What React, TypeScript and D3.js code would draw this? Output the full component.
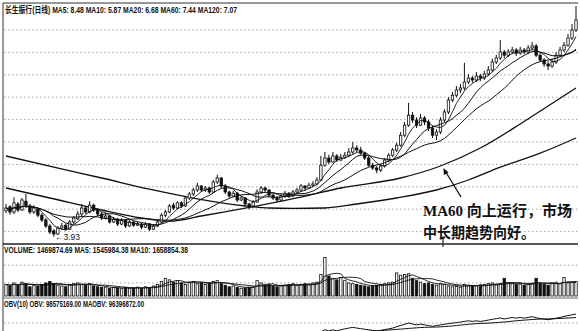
import React from "react";
import * as d3 from "d3";

const W = 580;
const H = 331;

// [open, high, low, close]
const ohlc: [number, number, number, number][] = [
  [4.58, 4.75, 4.52, 4.65], [4.68, 4.72, 4.48, 4.55], [4.55, 4.92, 4.5, 4.78], [4.75, 4.8, 4.55, 4.6],
  [4.6, 4.9, 4.58, 4.85], [4.82, 5.0, 4.65, 4.72], [4.7, 4.75, 4.5, 4.55], [4.55, 4.72, 4.5, 4.65],
  [4.62, 4.66, 4.42, 4.47], [4.47, 4.52, 4.3, 4.35], [4.35, 4.4, 4.15, 4.2], [4.2, 4.25, 4.0, 4.05],
  [4.08, 4.12, 3.93, 4.0], [4.0, 4.2, 3.98, 4.15], [4.15, 4.28, 4.1, 4.2], [4.22, 4.26, 4.08, 4.12],
  [4.12, 4.35, 4.1, 4.3], [4.3, 4.45, 4.25, 4.4], [4.38, 4.58, 4.35, 4.5], [4.5, 4.75, 4.45, 4.65],
  [4.65, 4.7, 4.5, 4.55], [4.55, 4.82, 4.52, 4.72], [4.72, 4.76, 4.55, 4.6], [4.6, 4.65, 4.45, 4.5],
  [4.5, 4.55, 4.35, 4.4], [4.4, 4.52, 4.36, 4.45], [4.45, 4.48, 4.26, 4.3], [4.3, 4.42, 4.28, 4.37],
  [4.37, 4.4, 4.2, 4.25], [4.25, 4.4, 4.22, 4.35], [4.35, 4.38, 4.15, 4.2], [4.2, 4.35, 4.18, 4.3],
  [4.3, 4.32, 4.18, 4.22], [4.22, 4.3, 4.2, 4.25], [4.25, 4.28, 4.12, 4.17], [4.17, 4.3, 4.15, 4.25],
  [4.25, 4.27, 4.08, 4.12], [4.12, 4.25, 4.1, 4.2], [4.2, 4.35, 4.18, 4.3], [4.3, 4.52, 4.28, 4.47],
  [4.47, 4.6, 4.42, 4.55], [4.55, 4.75, 4.52, 4.7], [4.72, 4.78, 4.6, 4.65], [4.65, 4.82, 4.62, 4.78],
  [4.78, 4.82, 4.65, 4.7], [4.7, 4.95, 4.68, 4.9], [4.9, 5.05, 4.85, 5.0], [5.0, 5.15, 4.95, 5.1],
  [5.1, 5.28, 5.05, 5.2], [5.2, 5.22, 5.05, 5.1], [5.1, 5.2, 5.05, 5.15], [5.15, 5.18, 5.0, 5.05],
  [5.05, 5.35, 5.02, 5.3], [5.3, 5.48, 5.25, 5.4], [5.4, 5.42, 5.15, 5.2], [5.2, 5.25, 5.0, 5.05],
  [5.05, 5.08, 4.9, 4.95], [4.95, 5.08, 4.92, 5.02], [5.02, 5.05, 4.8, 4.85], [4.85, 4.95, 4.82, 4.9],
  [4.9, 4.92, 4.7, 4.75], [4.75, 4.78, 4.62, 4.7], [4.7, 4.85, 4.66, 4.8], [4.8, 5.12, 4.78, 5.05],
  [5.05, 5.2, 5.0, 5.15], [5.15, 5.18, 5.05, 5.1], [5.1, 5.12, 4.92, 4.97], [4.97, 5.02, 4.85, 4.9],
  [4.9, 4.95, 4.8, 4.85], [4.85, 5.0, 4.82, 4.95], [4.95, 5.08, 4.9, 5.02], [5.02, 5.05, 4.9, 4.95],
  [4.95, 5.1, 4.92, 5.05], [5.05, 5.15, 5.0, 5.1], [5.1, 5.25, 5.05, 5.2], [5.2, 5.22, 5.08, 5.15],
  [5.15, 5.28, 5.12, 5.22], [5.22, 5.32, 5.18, 5.25], [5.25, 5.42, 5.22, 5.35], [5.35, 5.95, 5.32, 5.72],
  [5.72, 6.05, 5.68, 5.9], [5.9, 5.98, 5.75, 5.8], [5.8, 6.05, 5.78, 5.95], [5.95, 6.0, 5.8, 5.85],
  [5.85, 6.0, 5.82, 5.92], [5.92, 6.05, 5.88, 5.97], [5.97, 6.15, 5.92, 6.05], [6.05, 6.3, 6.0, 6.15],
  [6.15, 6.22, 6.05, 6.1], [6.1, 6.18, 5.98, 6.02], [6.02, 6.05, 5.85, 5.9], [5.9, 5.95, 5.68, 5.72],
  [5.72, 5.78, 5.6, 5.65], [5.65, 5.7, 5.52, 5.6], [5.6, 5.75, 5.55, 5.7], [5.7, 5.9, 5.66, 5.85],
  [5.85, 6.02, 5.8, 5.97], [5.97, 6.15, 5.92, 6.1], [6.1, 6.28, 6.05, 6.22], [6.22, 6.55, 6.18, 6.47],
  [6.47, 6.8, 6.42, 6.72], [6.72, 7.28, 6.68, 6.97], [6.97, 7.05, 6.78, 6.85], [6.85, 6.92, 6.65, 6.72],
  [6.72, 7.0, 6.7, 6.9], [6.9, 6.95, 6.72, 6.8], [6.8, 6.85, 6.58, 6.65], [6.65, 6.7, 6.4, 6.47],
  [6.47, 6.62, 6.35, 6.55], [6.55, 6.92, 6.5, 6.85], [6.85, 7.12, 6.8, 7.05], [7.05, 7.42, 7.0, 7.35],
  [7.35, 7.55, 7.3, 7.47], [7.47, 7.7, 7.42, 7.6], [7.6, 7.75, 7.52, 7.65], [7.65, 8.28, 7.6, 7.8],
  [7.8, 8.0, 7.75, 7.9], [7.9, 7.95, 7.78, 7.85], [7.85, 8.05, 7.8, 7.95], [7.95, 8.0, 7.82, 7.9],
  [7.9, 8.08, 7.85, 8.0], [8.0, 8.2, 7.95, 8.1], [8.1, 8.38, 8.05, 8.3], [8.3, 8.48, 8.25, 8.4],
  [8.4, 8.85, 8.35, 8.55], [8.55, 8.6, 8.4, 8.47], [8.47, 8.62, 8.42, 8.55], [8.55, 8.68, 8.5, 8.6],
  [8.6, 8.65, 8.45, 8.52], [8.52, 8.68, 8.48, 8.6], [8.6, 8.65, 8.5, 8.55], [8.55, 8.72, 8.5, 8.65],
  [8.65, 8.8, 8.6, 8.7], [8.7, 8.75, 8.42, 8.47], [8.47, 8.52, 8.3, 8.35], [8.35, 8.4, 8.18, 8.25],
  [8.25, 8.32, 8.1, 8.2], [8.2, 8.38, 8.15, 8.3], [8.3, 8.55, 8.25, 8.47], [8.47, 8.68, 8.42, 8.6],
  [8.6, 8.8, 8.55, 8.72], [8.72, 9.0, 8.68, 8.9], [8.9, 9.25, 8.85, 9.1], [9.1, 9.7, 9.05, 9.35],
];

// volume, 10k shares
const volume: number[] = [
  150, 130, 170, 140, 180, 160, 120, 140, 130, 150, 170, 190, 160,
  140, 130, 120, 150, 160, 170, 150, 140, 160, 130, 120, 110, 115,
  100, 110, 105, 95, 110, 100, 105, 115, 100, 120, 110, 130, 150, 190,
  230, 210, 180, 200, 170, 150,
  180, 190, 160, 170, 150, 165, 190, 200, 160, 140,
  120, 130, 110, 100, 105, 115, 120,
  200, 170, 140, 150, 130, 120, 130, 140, 150, 160, 140, 150, 160, 155, 170, 180,
  280, 500, 260, 230, 210, 240, 200,
  170, 160, 150, 140, 130, 120, 135, 140, 150, 160, 170,
  180, 300, 270, 280, 290, 230,
  200, 180, 160, 170, 150, 140, 160, 150,
  130, 120, 125, 115, 150, 140, 135, 130, 145, 150,
  160, 170, 150, 160, 230, 170, 160, 150, 155, 140, 150, 165, 230, 160, 150, 140, 170, 180, 160, 240, 170, 180, 190,
];

// long moving averages: [bar index, price]
const ma60Pts: [number, number][] = [
  [0, 5.15], [11, 4.9], [24, 4.6], [34, 4.4], [41, 4.32], [49, 4.45], [64, 4.72], [74, 4.92],
  [84, 5.15], [99, 5.4], [109, 5.7], [119, 6.15], [129, 6.75], [136, 7.2], [143, 7.65],
];
const ma120Pts: [number, number][] = [
  [0, 5.95], [12, 5.67], [24, 5.4], [36, 5.12], [48, 4.88], [60, 4.7], [66, 4.65], [72, 4.64],
  [80, 4.65], [88, 4.75], [98, 4.9], [108, 5.1], [116, 5.35], [124, 5.67], [134, 6.02], [143, 6.4],
];

const priceGrid = [9.1, 8.54, 7.98, 7.42, 6.86, 6.3, 5.74, 5.18, 4.62, 4.06];
const volGrid = [170, 400];

const mainTitle = "长生振行(日线) MA5: 8.48 MA10: 5.87 MA20: 6.68 MA60: 7.44 MA120: 7.07";
const volTitle = "VOLUME: 1469874.69 MA5: 1545984.38 MA10: 1658854.38";
const obvTitle = "OBV(10) OBV: 98575169.00 MAOBV: 96396872.00";
const lowLabel = "←3.93";
const note1 = "MA60 向上运行，市场";
const note2 = "中长期趋势向好。";

function movingAvg(vals: number[], n: number): number[] {
  return vals.map((_, i) => d3.mean(vals.slice(Math.max(0, i - n + 1), i + 1)) as number);
}

export default function App() {
  const n = ohlc.length;
  const xs = d3.scaleLinear().domain([0, n - 1]).range([6, 576]);
  const ys = d3.scaleLinear().domain([3.5, 9.6]).range([254, 10]);
  const yv = d3.scaleLinear().domain([0, 520]).range([296, 256]);

  const closes = ohlc.map((d) => d[3]);
  const ma5 = movingAvg(closes, 5);
  const ma10 = movingAvg(closes, 10);
  const ma20 = movingAvg(closes, 20);
  const vma5 = movingAvg(volume, 5);
  const vma10 = movingAvg(volume, 10);

  // OBV computed from closes and volumes
  const obv: number[] = [];
  closes.forEach((c, i) => {
    if (i === 0) obv.push(0);
    else obv.push(obv[i - 1] + (c > closes[i - 1] ? volume[i] : c < closes[i - 1] ? -volume[i] : 0));
  });
  const maobv = movingAvg(obv, 20);
  const obvTop = d3.max(obv.slice(100)) as number;
  const obvBottom = d3.min(obv.slice(84, 96)) as number;
  const yo = d3.scaleLinear().domain([obvBottom, obvTop]).range([331, 314]);

  const lineSeries = d3.line<number>().x((_, i) => xs(i)).y((d) => ys(d));
  const lineVol = d3.line<number>().x((_, i) => xs(i)).y((d) => yv(d));
  const lineObv = d3.line<number>().x((_, i) => xs(i)).y((d) => yo(d));
  const lineLong = d3
    .line<[number, number]>()
    .x((d) => xs(d[0]))
    .y((d) => ys(d[1]))
    .curve(d3.curveMonotoneX);

  const bw = 2.4;
  const headFont = "'Liberation Sans', Arial, 'Noto Sans CJK SC', sans-serif";

  return (
    <svg
      width={W}
      height={H}
      viewBox={`0 0 ${W} ${H}`}
      style={{ position: "absolute", left: 0, top: 0, background: "#fff" }}
    >
      <defs>
        <clipPath id="mainClip">
          <rect x={3} y={3} width={575} height={240} />
        </clipPath>
        <clipPath id="volClip">
          <rect x={3} y={245} width={575} height={52} />
        </clipPath>
        <clipPath id="obvClip">
          <rect x={3} y={299} width={575} height={32} />
        </clipPath>
      </defs>
      <rect x={0} y={0} width={W} height={H} fill="#fff" />

      {/* grid lines */}
      {priceGrid.map((p) => (
        <line key={"pg" + p} x1={4} x2={578} y1={ys(p)} y2={ys(p)} stroke="#8a8a8a" strokeWidth={0.8} strokeDasharray="1.5,2.5" />
      ))}
      {volGrid.map((v) => (
        <line key={"vg" + v} x1={4} x2={578} y1={yv(v)} y2={yv(v)} stroke="#8a8a8a" strokeWidth={0.8} strokeDasharray="1.5,2.5" />
      ))}
      <line x1={4} x2={578} y1={323} y2={323} stroke="#8a8a8a" strokeWidth={0.8} strokeDasharray="1.5,2.5" />

      {/* borders */}
      <line x1={3} x2={578} y1={3} y2={3} stroke="#333" strokeWidth={1.2} />
      <line x1={3} x2={3} y1={3} y2={331} stroke="#333" strokeWidth={1} />
      <line x1={3} x2={578} y1={244} y2={244} stroke="#222" strokeWidth={1.6} />
      <line x1={3} x2={578} y1={298} y2={298} stroke="#444" strokeWidth={0.8} />
      <line x1={443} x2={443} y1={238} y2={247} stroke="#222" strokeWidth={1.2} />

      {/* main panel */}
      <g clipPath="url(#mainClip)">
        <path d={lineLong(ma120Pts) || ""} fill="none" stroke="#111" strokeWidth={1.3} />
        <path d={lineLong(ma60Pts) || ""} fill="none" stroke="#111" strokeWidth={1.3} />
        {ohlc.map((d, i) => {
          const [o, h, l, c] = d;
          const x = xs(i);
          const top = ys(Math.max(o, c));
          const bot = ys(Math.min(o, c));
          const up = c >= o;
          return (
            <g key={"c" + i}>
              <line x1={x} x2={x} y1={ys(h)} y2={ys(l)} stroke="#111" strokeWidth={1} />
              <rect
                x={x - bw / 2}
                y={top}
                width={bw}
                height={Math.max(1, bot - top)}
                fill={up ? "#fff" : "#111"}
                stroke="#111"
                strokeWidth={0.8}
              />
            </g>
          );
        })}
        <path d={lineSeries(ma20) || ""} fill="none" stroke="#111" strokeWidth={1} />
        <path d={lineSeries(ma10) || ""} fill="none" stroke="#111" strokeWidth={1} />
        <path d={lineSeries(ma5) || ""} fill="none" stroke="#111" strokeWidth={0.9} />
      </g>

      {/* volume panel */}
      <g clipPath="url(#volClip)">
        {volume.map((v, i) => {
          const x = xs(i);
          const up = i === 0 || closes[i] >= ohlc[i][0];
          return (
            <rect
              key={"v" + i}
              x={x - bw / 2}
              y={yv(v)}
              width={bw}
              height={yv(0) - yv(v)}
              fill={up ? "#fff" : "#111"}
              stroke="#111"
              strokeWidth={0.8}
            />
          );
        })}
        <path d={lineVol(vma5) || ""} fill="none" stroke="#111" strokeWidth={0.9} />
        <path d={lineVol(vma10) || ""} fill="none" stroke="#111" strokeWidth={0.9} />
      </g>

      {/* obv panel */}
      <g clipPath="url(#obvClip)">
        <path d={lineObv(obv) || ""} fill="none" stroke="#111" strokeWidth={1} />
        <path d={lineObv(maobv) || ""} fill="none" stroke="#111" strokeWidth={1} />
      </g>

      {/* texts */}
      <text x={5} y={13} fontFamily={headFont} fontSize={9} fontWeight="bold" fill="#111" textLength={232} lengthAdjust="spacingAndGlyphs">
        {mainTitle}
      </text>
      <text x={4} y={253} fontFamily={headFont} fontSize={8.5} fontWeight="bold" fill="#111" textLength={184} lengthAdjust="spacingAndGlyphs">
        {volTitle}
      </text>
      <text x={4} y={307} fontFamily={headFont} fontSize={8.5} fontWeight="bold" fill="#111" textLength={140} lengthAdjust="spacingAndGlyphs">
        {obvTitle}
      </text>
      <text x={55} y={240} fontFamily={headFont} fontSize={8.5} fill="#111">
        {lowLabel}
      </text>

      {/* annotation */}
      <line x1={461} y1={197} x2={445.5} y2={171.5} stroke="#111" strokeWidth={1.3} />
      <path d="M443.5,168 L448.5,172.5 L443.8,175 Z" fill="#111" />
      <text
        x={423}
        y={216}
        fontFamily="'Liberation Serif', 'Noto Sans CJK SC', serif"
        fontSize={15}
        fontWeight="bold"
        fill="#111"
        textLength={149}
        lengthAdjust="spacingAndGlyphs"
      >
        {note1}
      </text>
      <text
        x={423}
        y={238}
        fontFamily="'Liberation Serif', 'Noto Sans CJK SC', serif"
        fontSize={15}
        fontWeight="bold"
        fill="#111"
        textLength={112}
        lengthAdjust="spacingAndGlyphs"
      >
        {note2}
      </text>
    </svg>
  );
}
